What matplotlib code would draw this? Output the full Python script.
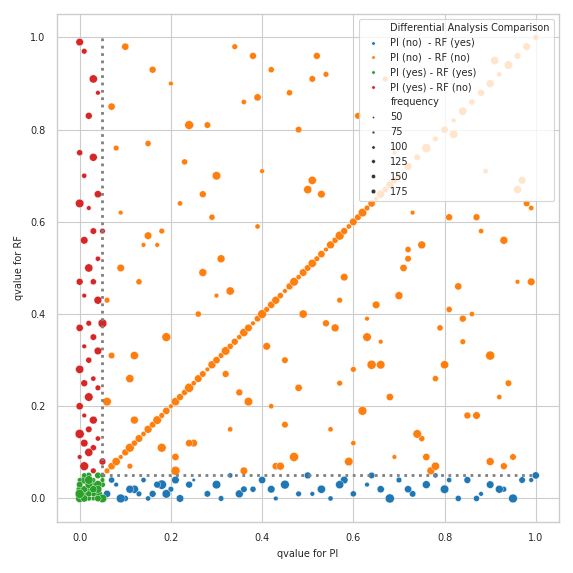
import matplotlib
matplotlib.use("Agg")
import pandas as pd
import matplotlib.pyplot as plt
import seaborn as sns

# valores estimados a ojo desde la figura
blue_x = [0.06, 0.08, 0.10, 0.12, 0.14, 0.16, 0.18, 0.20, 0.22, 0.25, 0.28, 0.30, 0.33, 0.35, 0.38, 0.40,
          0.43, 0.45, 0.48, 0.50, 0.53, 0.55, 0.58, 0.60, 0.63, 0.66, 0.68, 0.70, 0.73, 0.76, 0.78, 0.80,
          0.83, 0.85, 0.88, 0.90, 0.93, 0.95, 0.97, 1.00, 0.07, 0.11, 0.15, 0.19, 0.24, 0.31, 0.42, 0.51,
          0.57, 0.64, 0.72, 0.81, 0.87, 0.92, 0.99, 0.09, 0.13, 0.17, 0.21, 0.36]
blue_y = [0.01, 0.03, 0.00, 0.02, 0.04, 0.01, 0.03, 0.02, 0.00, 0.04, 0.01, 0.03, 0.05, 0.01, 0.02, 0.04,
          0.00, 0.03, 0.01, 0.05, 0.02, 0.00, 0.04, 0.01, 0.03, 0.02, 0.00, 0.04, 0.01, 0.03, 0.05, 0.02,
          0.00, 0.04, 0.01, 0.03, 0.02, 0.00, 0.04, 0.05, 0.04, 0.02, 0.00, 0.01, 0.03, 0.00, 0.02, 0.01,
          0.03, 0.05, 0.02, 0.04, 0.00, 0.02, 0.04, 0.00, 0.01, 0.03, 0.04, 0.02]
blue_f = [120, 60, 90, 150, 70, 110, 190, 80, 130, 40, 100, 160, 70, 140, 90, 120, 60, 170, 80, 110, 150,
          70, 130, 90, 60, 120, 180, 80, 100, 140, 70, 160, 90, 110, 60, 130, 80, 170, 100, 120, 90, 140,
          70, 160, 110, 80, 130, 60, 150, 100, 120, 70, 90, 140, 60, 170, 80, 110, 130, 100]

green_x = [0.00, 0.01, 0.02, 0.03, 0.04, 0.05, 0.00, 0.01, 0.02, 0.03, 0.04, 0.05, 0.00, 0.01, 0.02, 0.03,
           0.04, 0.05, 0.01, 0.02, 0.03, 0.04, 0.00, 0.02, 0.04, 0.01, 0.03, 0.05, 0.00, 0.02]
green_y = [0.00, 0.01, 0.02, 0.00, 0.01, 0.03, 0.02, 0.04, 0.00, 0.03, 0.05, 0.00, 0.04, 0.00, 0.05, 0.01,
           0.03, 0.05, 0.02, 0.03, 0.04, 0.00, 0.01, 0.01, 0.02, 0.05, 0.02, 0.04, 0.03, 0.04]
green_f = [150, 90, 120, 60, 170, 80, 110, 140, 70, 130, 100, 160, 60, 120, 90, 80, 150, 70, 110, 130,
           60, 100, 180, 90, 140, 70, 120, 60, 100, 160]

red_x = [0.00, 0.01, 0.03, 0.04, 0.02, 0.00, 0.03, 0.01, 0.04, 0.02, 0.00, 0.03, 0.05, 0.01, 0.04, 0.02,
         0.00, 0.03, 0.01, 0.04, 0.02, 0.00, 0.03, 0.05, 0.01, 0.04, 0.02, 0.00, 0.03, 0.01, 0.04, 0.02,
         0.00, 0.01, 0.03, 0.02, 0.00, 0.04, 0.01, 0.03, 0.02, 0.00, 0.05, 0.01, 0.03]
red_y = [0.99, 0.97, 0.91, 0.88, 0.83, 0.75, 0.74, 0.70, 0.66, 0.63, 0.64, 0.58, 0.58, 0.56, 0.52, 0.50,
         0.47, 0.47, 0.44, 0.43, 0.38, 0.37, 0.35, 0.38, 0.33, 0.32, 0.30, 0.28, 0.26, 0.25, 0.24, 0.22,
         0.20, 0.18, 0.17, 0.15, 0.14, 0.13, 0.12, 0.11, 0.10, 0.09, 0.08, 0.07, 0.06]
red_f = [130, 80, 150, 60, 110, 90, 140, 70, 120, 60, 160, 100, 80, 130, 70, 150, 110, 90, 60, 140, 80,
         120, 100, 170, 60, 130, 90, 150, 70, 110, 80, 160, 120, 60, 140, 100, 180, 70, 130, 90, 150, 60,
         110, 170, 80]

orange_x = [0.06, 0.07, 0.08, 0.09, 0.10, 0.11, 0.12, 0.13, 0.14, 0.15, 0.16, 0.17, 0.18, 0.19, 0.20, 0.21,
            0.22, 0.23, 0.24, 0.25, 0.26, 0.27, 0.28, 0.29, 0.30, 0.31, 0.32, 0.33, 0.34, 0.35, 0.36, 0.37,
            0.38, 0.39, 0.40, 0.41, 0.42, 0.43, 0.44, 0.45, 0.46, 0.47, 0.48, 0.49, 0.50, 0.51, 0.52, 0.53,
            0.54, 0.55, 0.56, 0.57, 0.58, 0.59, 0.60, 0.61, 0.62, 0.63, 0.64, 0.65, 0.66, 0.67, 0.68, 0.69,
            0.70, 0.72, 0.74, 0.76, 0.78, 0.80, 0.82, 0.84, 0.86, 0.88, 0.90, 0.92, 0.94, 0.96, 0.98, 1.00,
            0.07, 0.09, 0.11, 0.13, 0.16, 0.19, 0.22, 0.25, 0.28, 0.31, 0.34, 0.37, 0.40, 0.43, 0.46, 0.49,
            0.52, 0.55, 0.58, 0.61, 0.64, 0.67, 0.70, 0.73, 0.76, 0.79, 0.82, 0.85, 0.88, 0.91, 0.94, 0.97,
            0.06, 0.10, 0.14, 0.18, 0.23, 0.27, 0.32, 0.36, 0.41, 0.45, 0.50, 0.54, 0.59, 0.63, 0.68, 0.72,
            0.77, 0.81, 0.86, 0.90, 0.95, 0.99, 0.08, 0.12, 0.17, 0.21, 0.26, 0.30, 0.35, 0.39, 0.44, 0.48,
            0.53, 0.57, 0.62, 0.66, 0.71, 0.75, 0.80, 0.84, 0.89, 0.93, 0.98, 0.06, 0.11, 0.15, 0.20, 0.24,
            0.29, 0.33, 0.38, 0.42, 0.47, 0.51, 0.56, 0.60, 0.65, 0.69, 0.74, 0.78, 0.83, 0.87, 0.92, 0.96,
            0.07, 0.12, 0.18, 0.24, 0.30, 0.36, 0.42, 0.48, 0.54, 0.60, 0.66, 0.72, 0.78, 0.84, 0.90, 0.96,
            0.09, 0.15, 0.21, 0.27, 0.33, 0.39, 0.45, 0.51, 0.57, 0.63, 0.69, 0.75, 0.81, 0.87, 0.93, 0.99]
orange_y = [0.06, 0.07, 0.08, 0.09, 0.10, 0.11, 0.12, 0.13, 0.14, 0.15, 0.16, 0.17, 0.18, 0.19, 0.20, 0.21,
            0.22, 0.23, 0.24, 0.25, 0.26, 0.27, 0.28, 0.29, 0.30, 0.31, 0.32, 0.33, 0.34, 0.35, 0.36, 0.37,
            0.38, 0.39, 0.40, 0.41, 0.42, 0.43, 0.44, 0.45, 0.46, 0.47, 0.48, 0.49, 0.50, 0.51, 0.52, 0.53,
            0.54, 0.55, 0.56, 0.57, 0.58, 0.59, 0.60, 0.61, 0.62, 0.63, 0.64, 0.65, 0.66, 0.67, 0.68, 0.69,
            0.70, 0.72, 0.74, 0.76, 0.78, 0.80, 0.82, 0.84, 0.86, 0.88, 0.90, 0.92, 0.94, 0.96, 0.98, 1.00,
            0.85, 0.62, 0.26, 0.47, 0.93, 0.35, 0.64, 0.12, 0.81, 0.52, 0.98, 0.21, 0.71, 0.07, 0.88, 0.40,
            0.96, 0.15, 0.48, 0.83, 0.29, 0.91, 0.44, 0.62, 0.09, 0.37, 0.79, 0.18, 0.58, 0.95, 0.25, 0.69,
            0.43, 0.98, 0.55, 0.11, 0.73, 0.49, 0.27, 0.86, 0.33, 0.16, 0.67, 0.92, 0.08, 0.39, 0.22, 0.54,
            0.06, 0.61, 0.40, 0.31, 0.09, 0.47, 0.76, 0.31, 0.55, 0.09, 0.40, 0.70, 0.23, 0.59, 0.07, 0.80,
            0.66, 0.43, 0.19, 0.34, 0.50, 0.13, 0.29, 0.39, 0.71, 0.56, 0.64, 0.21, 0.07, 0.57, 0.90, 0.12,
            0.61, 0.45, 0.96, 0.20, 0.09, 0.91, 0.37, 0.28, 0.42, 0.75, 0.14, 0.26, 0.46, 0.61, 0.22, 0.67,
            0.31, 0.17, 0.58, 0.81, 0.44, 0.06, 0.93, 0.24, 0.38, 0.12, 0.29, 0.52, 0.07, 0.34, 0.08, 0.47,
            0.50, 0.77, 0.06, 0.66, 0.15, 0.87, 0.30, 0.69, 0.25, 0.35, 0.09, 0.55, 0.41, 0.18, 0.07, 0.63]
orange_f = [80, 120, 150, 60, 110, 170, 90, 130, 70, 140, 100, 160, 80, 120, 60, 150,
            110, 90, 180, 70, 130, 100, 60, 140, 120, 80, 160, 90, 110, 70, 150, 130,
            60, 100, 170, 80, 120, 140, 90, 60, 110, 160, 70, 130, 100, 150, 80, 120,
            60, 140, 90, 170, 110, 70, 130, 100, 160, 80, 120, 60, 150, 90, 140, 110,
            70, 130, 100, 180, 80, 120, 60, 150, 90, 110, 140, 70, 160, 100, 130, 80,
            120, 60, 150, 90, 110, 170, 70, 130, 100, 140, 80, 160, 60, 120, 90, 150,
            110, 70, 130, 100, 180, 80, 140, 60, 120, 90, 160, 110, 70, 150, 100, 130,
            80, 120, 60, 170, 90, 140, 110, 70, 130, 100, 150, 80, 160, 60, 120, 90,
            140, 110, 70, 180, 100, 130, 80, 150, 60, 120, 90, 160, 110, 70, 140, 100,
            130, 80, 170, 60, 120, 90, 150, 110, 70, 140, 100, 160, 80, 130, 60, 120,
            90, 150, 110, 70, 180, 100, 140, 80, 130, 60, 160, 90, 120, 110, 70, 150,
            100, 140, 80, 170, 60, 130, 90, 120, 110, 70, 160, 100, 150, 80, 140, 60,
            130, 90, 180, 110, 70, 120, 100, 150, 80, 160, 60, 140, 90, 130, 110, 70]

groups = ["PI (no)  - RF (yes)", "PI (no)  - RF (no)", "PI (yes) - RF (yes)", "PI (yes) - RF (no)"]
colores = ["#1f77b4", "#ff7f0e", "#2ca02c", "#d62728"]

rows = []
for g, xs, ys, fs in [(groups[0], blue_x, blue_y, blue_f),
                      (groups[1], orange_x, orange_y, orange_f),
                      (groups[2], green_x, green_y, green_f),
                      (groups[3], red_x, red_y, red_f)]:
    for x, y, f in zip(xs, ys, fs):
        rows.append((x, y, f, g))
df = pd.DataFrame(rows, columns=["qvalue for PI", "qvalue for RF", "frequency",
                                 "Differential Analysis Comparison"])

sns.set_theme(style="whitegrid", context="paper")
fig, ax = plt.subplots(figsize=(5.73, 5.73), dpi=100)

sns.scatterplot(data=df, x="qvalue for PI", y="qvalue for RF",
                hue="Differential Analysis Comparison", hue_order=groups, palette=colores,
                size="frequency", sizes=(6, 45), ax=ax)

ax.plot([0.05, 0.05], [0.05, 1.0], linestyle=":", color="gray", linewidth=2)
ax.plot([0.05, 1.0], [0.05, 0.05], linestyle=":", color="gray", linewidth=2)

ax.set_xlim(-0.05, 1.05)
ax.set_ylim(-0.05, 1.05)
ax.set_xlabel("qvalue for PI", fontsize=7)
ax.set_ylabel("qvalue for RF", fontsize=7)
ax.tick_params(labelsize=7)
leg = ax.legend(loc="upper right", fontsize=7, markerscale=0.5)

plt.tight_layout()
plt.savefig("out.png")
